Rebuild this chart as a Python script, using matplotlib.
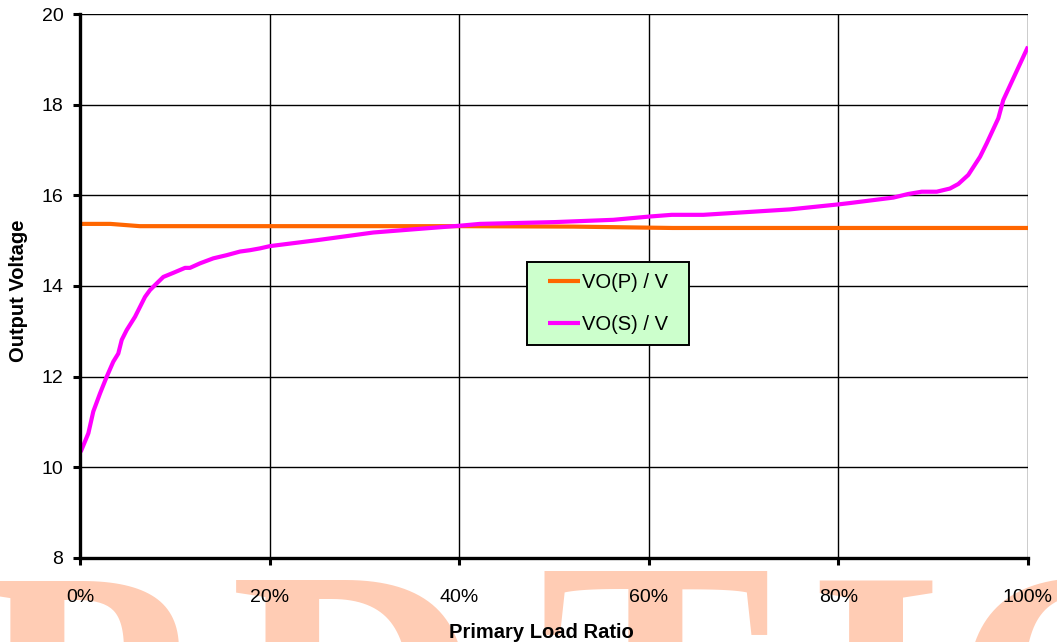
import matplotlib
matplotlib.use("Agg")
import matplotlib.pyplot as plt
from matplotlib.ticker import FixedLocator, FixedFormatter

# ---- data ----
load_p = [0, 3.2, 6.3, 40, 52, 62.5, 100]
vo_p = [15.37, 15.37, 15.32, 15.32, 15.31, 15.28, 15.28]

load_s = [0.07, 0.88, 1.40, 2.11, 2.82, 3.51, 4.04, 4.40, 4.93, 5.80, 6.33, 6.86,
          7.38, 7.91, 8.79, 9.84, 11.08, 11.60, 12.66, 14.06, 15.47, 16.88, 17.93,
          18.99, 20.04, 24.97, 30.94, 35.16, 40.08, 42.19, 50.11, 56.26, 59.95,
          62.42, 65.75, 74.89, 79.99, 81.22, 85.79, 87.37, 88.79, 90.37, 91.77,
          92.65, 93.70, 94.94, 95.65, 96.87, 97.39, 98.45, 100.0]
vo_s = [10.34, 10.75, 11.23, 11.63, 12.00, 12.33, 12.51, 12.81, 13.03, 13.32, 13.54,
        13.76, 13.91, 14.02, 14.20, 14.29, 14.40, 14.40, 14.50, 14.61, 14.68, 14.76,
        14.79, 14.83, 14.88, 15.01, 15.18, 15.25, 15.33, 15.37, 15.41, 15.46, 15.53,
        15.57, 15.57, 15.69, 15.80, 15.83, 15.95, 16.03, 16.08, 16.08, 16.15, 16.25,
        16.45, 16.85, 17.15, 17.70, 18.10, 18.58, 19.28]

x_ticks = [0, 20, 40, 60, 80, 100]
x_tick_labels = ["0%", "20%", "40%", "60%", "80%", "100%"]
y_ticks = [8, 10, 12, 14, 16, 18, 20]
y_tick_labels = ["8", "10", "12", "14", "16", "18", "20"]
series_names = ["VO(P) / V", "VO(S) / V"]
x_title = "Primary Load Ratio"
y_title = "Output Voltage"
watermark_letters = ["P", "D", "T", "I", "O"]

plt.rcParams["font.family"] = ["Liberation Sans", "DejaVu Sans"]

W, H = 1057, 642
fig = plt.figure(figsize=(W / 100, H / 100), dpi=100)
fig.patch.set_facecolor("white")

# watermark letters (background)
wm_x = [-25, 230, 538, 807, 950]
wm_base = [810, 810, 800, 810, 810]
for letter, px, py in zip(watermark_letters, wm_x, wm_base):
    fig.text(px / W, (H - py) / H, letter, fontsize=252, family="Liberation Serif",
             fontweight="bold", color="#FFCCB4", ha="left", va="baseline", zorder=-10)

ax = fig.add_axes([80 / W, 1 - 558 / H, (1028 - 80) / W, (558 - 14) / H])
ax.set_zorder(1)
ax.patch.set_alpha(0)

ax.plot(load_p, vo_p, color="#FF6600", lw=3.0, label=series_names[0], zorder=3,
        solid_joinstyle="round", solid_capstyle="butt")
ax.plot(load_s, vo_s, color="#FF00FF", lw=3.0, label=series_names[1], zorder=4,
        solid_joinstyle="round", solid_capstyle="butt")

ax.set_xlim(0, 100)
ax.set_ylim(8, 20)
ax.xaxis.set_major_locator(FixedLocator(x_ticks))
ax.xaxis.set_major_formatter(FixedFormatter(x_tick_labels))
ax.yaxis.set_major_locator(FixedLocator(y_ticks))
ax.yaxis.set_major_formatter(FixedFormatter(y_tick_labels))

ax.grid(True, color="black", lw=1.0, zorder=1)
ax.set_axisbelow(True)
for s in ["top", "right"]:
    ax.spines[s].set_visible(False)
for s in ["left", "bottom"]:
    ax.spines[s].set_linewidth(2.4)
    ax.spines[s].set_color("black")
    ax.spines[s].set_zorder(5)

ax.tick_params(axis="both", direction="out", length=5, width=2.2, color="black",
               labelsize=14, labelcolor="black")
ax.tick_params(axis="y", pad=7)
ax.tick_params(axis="x", pad=17)

fig.text(541 / W, 1 - 632 / H, x_title, fontsize=14.5, fontweight="bold",
         ha="center", va="center", zorder=5)
fig.text(18 / W, 1 - 291 / H, y_title, fontsize=14.5, fontweight="bold",
         ha="center", va="center", rotation=90, zorder=5)

leg = ax.legend(loc="upper left", bbox_to_anchor=(537 / W, 1 - 262 / H),
                bbox_transform=fig.transFigure, borderaxespad=0, fontsize=14.5,
                borderpad=0.55, handlelength=1.6, handletextpad=0.1,
                labelspacing=1.15, fancybox=False, framealpha=1,
                facecolor="#CCFFCC", edgecolor="black")
fr = leg.get_frame()
fr.set_linewidth(1.4)
fr.set_boxstyle("square", pad=0.5)
fr.set_mutation_aspect(1e-6)
leg.set_zorder(10)

fig.savefig("out.png", dpi=100)
